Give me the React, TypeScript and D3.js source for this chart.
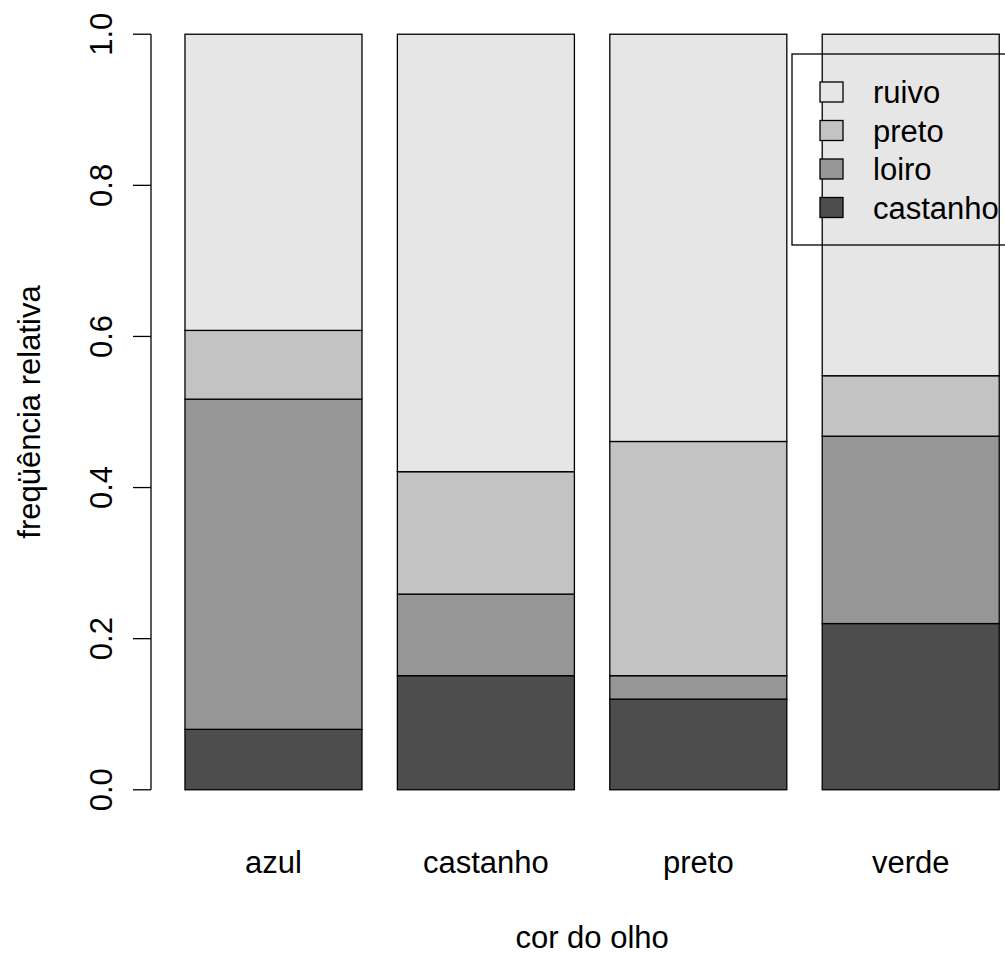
import { useEffect } from "react";
import * as d3 from "d3";

// cor do olho (eye colour) categories
const olhos = ["azul", "castanho", "preto", "verde"];
// cabelo (hair colour) series, bottom to top
const cabelos = ["castanho", "loiro", "preto", "ruivo"];
const cores = ["#4D4D4D", "#969696", "#C3C3C3", "#E6E6E6"];

// relative frequencies per eye colour (each column sums to 1)
const castanho = [0.08, 0.151, 0.12, 0.22];
const loiro = [0.437, 0.108, 0.031, 0.248];
const preto = [0.091, 0.162, 0.31, 0.08];
const ruivo = [0.392, 0.579, 0.539, 0.452];

const yTicks = [0, 0.2, 0.4, 0.6, 0.8, 1.0];

const W = 1005;
const H = 954;
const FONT = "'Liberation Sans', Arial, Helvetica, sans-serif";
const FS = 31;

export default function App() {
  useEffect(() => {
    document.body.style.margin = "0";
  }, []);

  const series = [castanho, loiro, preto, ruivo];
  const rows = olhos.map((o, i) => {
    const r: any = { olho: o };
    cabelos.forEach((c, j) => (r[c] = series[j][i]));
    return r;
  });
  const stacked = d3.stack().keys(cabelos)(rows);

  // R barplot geometry: width 1, space 0.2, axes extended 4%
  const x = d3.scaleLinear().domain([0.016, 4.984]).range([152.4, 1031.8]);
  const y = d3.scaleLinear().domain([-0.04, 1.04]).range([820, 4]);
  const left = (i: number) => 0.2 + 1.2 * i;

  const axisX = 151;
  const legX = 792;
  const legTop = 54;
  const legBottom = 245;
  const rowH = 38.5;

  return (
    <svg width={W} height={H} style={{ display: "block", background: "#fff" }} fontFamily={FONT}>
      {stacked.map((s, j) => (
        <g key={cabelos[j]}>
          {s.map((d, i) => (
            <rect
              key={i}
              x={x(left(i))}
              y={y(d[1])}
              width={x(left(i) + 1) - x(left(i))}
              height={y(d[0]) - y(d[1])}
              fill={cores[j]}
              stroke="#000"
              strokeWidth={1.3}
            />
          ))}
        </g>
      ))}

      {/* y axis */}
      <line x1={axisX} x2={axisX} y1={y(0)} y2={y(1)} stroke="#000" strokeWidth={1.3} />
      {yTicks.map((t) => (
        <g key={t}>
          <line x1={axisX - 18} x2={axisX} y1={y(t)} y2={y(t)} stroke="#000" strokeWidth={1.3} />
          <text
            transform={`translate(112,${y(t)}) rotate(-90)`}
            textAnchor="middle"
            fontSize={FS}
            fill="#000"
          >
            {d3.format(".1f")(t)}
          </text>
        </g>
      ))}
      <text
        transform={`translate(40,${(y.range()[0] + y.range()[1]) / 2}) rotate(-90)`}
        textAnchor="middle"
        fontSize={FS}
        fill="#000"
      >
        freqüência relativa
      </text>

      {/* x category labels */}
      {olhos.map((o, i) => (
        <text key={o} x={x(left(i) + 0.5)} y={873} textAnchor="middle" fontSize={FS} fill="#000">
          {o}
        </text>
      ))}
      <text x={(x.range()[0] + x.range()[1]) / 2} y={948} textAnchor="middle" fontSize={FS} fill="#000">
        cor do olho
      </text>

      {/* legend */}
      <rect x={legX} y={legTop} width={x.range()[1] - legX} height={legBottom - legTop} fill="none" stroke="#000" strokeWidth={1.3} />
      {[...cabelos].reverse().map((c, k) => {
        const j = cabelos.length - 1 - k;
        const cy = 92 + k * rowH;
        return (
          <g key={c}>
            <rect x={820} y={cy - 10} width={23} height={20} fill={cores[j]} stroke="#000" strokeWidth={1.3} />
            <text x={873} y={cy + 11} fontSize={FS} fill="#000">
              {c}
            </text>
          </g>
        );
      })}
    </svg>
  );
}
